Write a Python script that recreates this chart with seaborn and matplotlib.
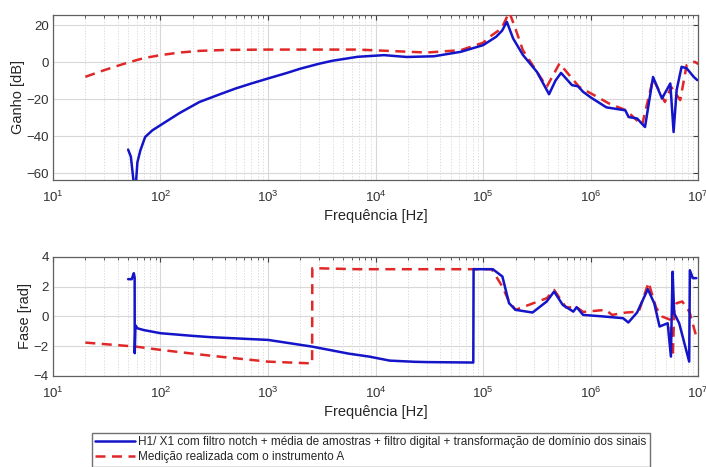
import numpy as np
import pandas as pd
import matplotlib
matplotlib.use("Agg")
import matplotlib.pyplot as plt
import seaborn as sns
from matplotlib.ticker import LogLocator, NullFormatter

sns.set_style("white")
plt.rcParams['font.family'] = ['Liberation Sans', 'DejaVu Sans']
plt.rcParams['mathtext.fontset'] = 'custom'
plt.rcParams['mathtext.rm'] = 'Liberation Sans'
plt.rcParams['mathtext.it'] = 'Liberation Sans'

# ---------------- data ----------------
label_blue = "H1/ X1 com filtro notch + média de amostras + filtro digital + transformação de domínio dos sinais"
label_red = "Medição realizada com o instrumento A"

f_gain_blue = [50, 53, 56.6, 59, 61, 65, 72, 84, 100, 150, 230, 350, 500, 700, 1000, 1500,
               2000, 3000, 4000, 6800, 12000, 19500, 35000, 62000, 100000, 132000, 150000,
               166000, 190000, 235000, 316000, 410000, 470000, 530000, 670000, 760000,
               850000, 1.0e6, 1.4e6, 2.1e6, 2.25e6, 2.7e6, 3.2e6, 3.8e6, 4.6e6, 5.5e6,
               5.9e6, 6.3e6, 7.0e6, 7.8e6, 9.1e6, 9.8e6]
gain_blue = [-47.2, -51, -66, -66, -54, -47.6, -40.4, -36.8, -34, -27.5, -21.5, -17.5, -14.2,
             -11.5, -8.8, -5.8, -3.5, -0.8, 0.8, 2.9, 3.8, 2.8, 3.2, 5.6, 9.2, 13.7, 17,
             21.8, 12.8, 3.8, -5.2, -17.3, -10, -5.8, -12.4, -13,
             -16, -19, -24.4, -26, -29.6, -30.4, -35, -8, -19.6, -11.5,
             -37.7, -15, -2.5, -3.3, -8, -9.7]

f_gain_red = [20, 30, 45, 59, 70, 100, 150, 230, 400, 1000, 6800, 30000, 62000, 100000,
              117000, 148000, 175000, 200000, 234000, 390000, 513000, 780000, 1.48e6,
              2.14e6, 3.0e6, 3.8e6, 4.9e6, 5.6e6, 6.8e6, 7.8e6, 9.3e6, 1e7]
gain_red = [-7.9, -4.3, -1, 1, 2.2, 3.8, 5.2, 6.1, 6.6, 6.8, 6.8, 5.2, 6.5, 10.5,
            14, 18.2, 27, 18, 6.5, -13.3, -0.7, -13.3, -22.3,
            -26, -34, -9, -21.5, -13.3, -20.5, -1.6, 0.2, -1]

f_ph_blue = [50, 54, 56.5, 57.5, 57.6, 58.5, 61, 70, 100, 200, 300, 1000, 2570, 5600, 8700,
             13500, 23000, 30000, 81000, 81500, 123000, 151000, 174000, 200000, 288000,
             390000, 457000, 550000, 690000, 740000, 850000, 1.29e6, 2.0e6, 2.24e6, 2.7e6,
             3.4e6, 3.9e6, 4.37e6, 5.2e6, 5.57e6, 5.77e6, 5.98e6, 6.65e6, 8.24e6, 8.36e6,
             8.9e6, 9.6e6]
ph_blue = [2.5, 2.5, 2.9, 2.6, -2.47, -0.6, -0.8, -0.92, -1.13, -1.31, -1.4, -1.58, -2.03,
           -2.5, -2.7, -2.97, -3.05, -3.07, -3.1, 3.17, 3.17, 2.68, 0.89, 0.44, 0.26,
           1.0, 1.67, 0.77, 0.32, 0.62, 0.1, 0.0, -0.12, -0.41, 0.26,
           1.83, 0.88, -0.68, -0.46, -2.7, 3.0, 0.2, -0.46, -3.04, 3.1,
           2.57, 2.57]

f_ph_red = [20, 59, 100, 300, 1000, 2400, 2570, 2580, 6800, 50000, 81000, 120000, 151000,
            174000, 200000, 390000, 457000, 590000, 740000, 850000, 1.38e6, 1.58e6,
            2.14e6, 2.8e6, 3.45e6, 4.05e6, 4.6e6, 5.5e6, 5.8e6, 6.0e6, 6.3e6, 7.1e6,
            8.3e6, 9.6e6]
ph_red = [-1.76, -2.03, -2.25, -2.65, -3.04, -3.15, -3.15, 3.24, 3.17, 3.17, 3.17, 3.17, 2.0,
          1.0, 0.44, 1.22, 1.78, 0.6, 0.62, 0.3, 0.44, 0.1,
          0.26, 0.32, 2.28, 0.6, 0.0, -0.23, -2.7, 0.6, 0.89, 1.0,
          0.3, -1.36]

x_ticks = [1e1, 1e2, 1e3, 1e4, 1e5, 1e6, 1e7]
gain_ticks = [-60, -40, -20, 0, 20]
phase_ticks = [-4, -2, 0, 2, 4]

BLUE = "#1414c8"
RED = "#e02828"

fig = plt.figure(figsize=(7.06, 4.67), dpi=100)
ax1 = fig.add_axes([0.075, 0.615, 0.914, 0.353])
ax2 = fig.add_axes([0.075, 0.195, 0.914, 0.255])

df_gb = pd.DataFrame({"f": f_gain_blue, "v": gain_blue})
df_gr = pd.DataFrame({"f": f_gain_red, "v": gain_red})
df_pb = pd.DataFrame({"f": f_ph_blue, "v": ph_blue})
df_pr = pd.DataFrame({"f": f_ph_red, "v": ph_red})

for ax, db, dr in [(ax1, df_gb, df_gr), (ax2, df_pb, df_pr)]:
    sns.lineplot(data=db, x="f", y="v", ax=ax, color=BLUE, lw=1.8, sort=False,
                 estimator=None, label=label_blue, legend=False, zorder=4)
    sns.lineplot(data=dr, x="f", y="v", ax=ax, color=RED, lw=1.8, sort=False,
                 estimator=None, label=label_red, legend=False, zorder=3,
                 dashes=False, linestyle=(0, (4, 2.6)))

for ax in (ax1, ax2):
    ax.set_xscale("log")
    ax.set_xlim(1e1, 1e7)
    ax.set_xticks(x_ticks)
    ax.xaxis.set_minor_locator(LogLocator(base=10, subs=np.arange(2, 10), numticks=20))
    ax.xaxis.set_minor_formatter(NullFormatter())
    ax.grid(True, which="major", color="#d8d8d8", lw=0.8, ls="-")
    ax.grid(True, which="minor", axis="x", color="#d4d4d4", lw=0.6, ls=(0, (1.5, 2)))
    ax.tick_params(which="both", direction="in", top=True, right=True,
                   colors="#404040", labelcolor="#303030", labelsize=9.5)
    ax.tick_params(which="major", length=3.5, width=0.8)
    ax.tick_params(which="minor", length=2, width=0.6)
    ax.tick_params(axis="x", which="major", pad=7)
    ax.tick_params(axis="y", which="major", pad=3)
    for s in ax.spines.values():
        s.set_color("#606060")
        s.set_linewidth(0.9)
    ax.set_xlabel("Frequência [Hz]", fontsize=10.5, color="#262626", labelpad=3)
    ax.set_axisbelow(True)

ax1.set_ylim(-63.5, 25.5)
ax1.set_yticks(gain_ticks)
ax1.set_ylabel("Ganho [dB]", fontsize=10.5, color="#262626", labelpad=1)
ax2.set_ylim(-4, 4)
ax2.set_yticks(phase_ticks)
ax2.set_ylabel("Fase [rad]", fontsize=10.5, color="#262626", labelpad=1)

handles, labels = ax2.get_legend_handles_labels()
leg = fig.legend(handles, labels, loc="upper left", bbox_to_anchor=(0.130, 0.073),
                 fontsize=8.5, frameon=True, fancybox=False, framealpha=1,
                 edgecolor="#707070", handlelength=3.4, handletextpad=0.2,
                 borderpad=0.3, labelspacing=0.25, borderaxespad=0)
leg.get_frame().set_linewidth(1.0)

fig.savefig("out.png", dpi=100)
